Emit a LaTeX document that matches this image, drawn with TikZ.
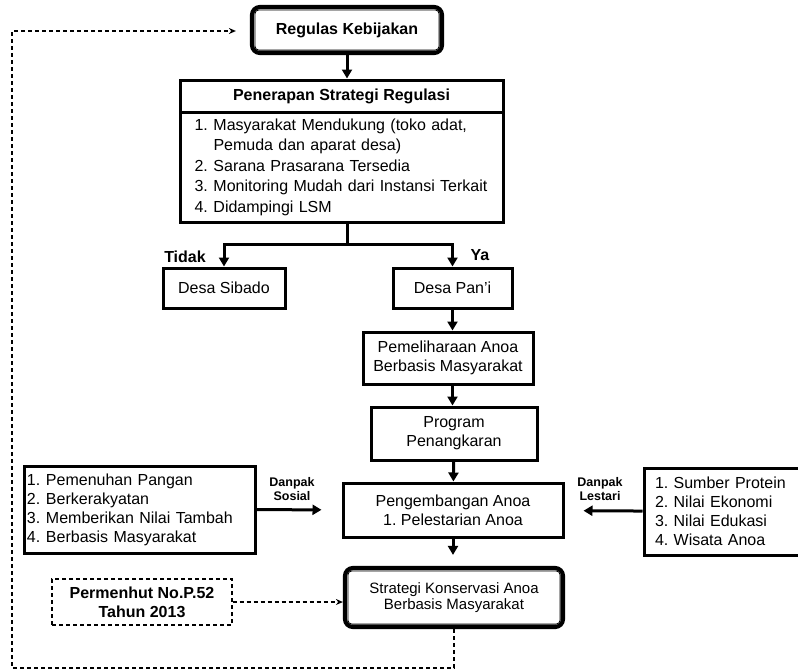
\documentclass[tikz,border=0pt]{standalone}
\usepackage{fontspec}
\setmainfont{Liberation Sans}
\usetikzlibrary{arrows.meta}

\newcommand{\itm}[2]{\makebox[19pt][l]{#1}#2}
\frenchspacing

\begin{document}
\begin{tikzpicture}[x=1pt,y=-1pt,
  box/.style={draw, line width=3pt, align=center, inner sep=2pt, font=\fontsize{16}{19}\selectfont},
  listbox/.style={box, align=left, font=\fontsize{16}{19}\selectfont},
  dblbox/.style={draw, line width=4.2pt, rounded corners=8pt, align=center},
  innerframe/.style={line width=0.8pt, rounded corners=4pt},
  arr/.style={line width=3pt, -{Triangle[length=9pt,width=10pt]}},
  dashln/.style={line width=1.1pt, dash pattern=on 4pt off 3pt},
  dasharr/.style={dashln, -{Stealth[length=7pt,width=6pt]}},
  lbl/.style={font=\bfseries\fontsize{16}{18}\selectfont},
  smalllbl/.style={align=center, font=\bfseries\fontsize{12.5}{14}\selectfont}
]
\useasboundingbox (0,0) rectangle (798,672);

\node[dblbox, minimum width=190pt, minimum height=46pt, font=\bfseries\fontsize{16}{19}\selectfont] (reg) at (347,30) {Regulas Kebijakan};
\draw[innerframe] ([xshift=5pt,yshift=-5pt]reg.north west) rectangle ([xshift=-5pt,yshift=5pt]reg.south east);

\node[box, minimum width=323pt, minimum height=32pt, font=\bfseries\fontsize{16}{19}\selectfont] (hdr) at (341.5,96) {Penerapan Strategi Regulasi};
\node[listbox, minimum width=323pt, minimum height=110pt, text width=294pt, inner xsep=14.5pt, font=\fontsize{16}{20.5}\selectfont] (pen) at (341.5,167)
  {\itm{1.}{Masyarakat Mendukung (toko adat,}\\\hspace*{19pt}Pemuda dan aparat desa)\\\itm{2.}{Sarana Prasarana Tersedia}\\\itm{3.}{Monitoring Mudah dari Instansi Terkait}\\\itm{4.}{Didampingi LSM}};

\node[box, minimum width=122pt, minimum height=40pt] (sib) at (224,288) {Desa Sibado};
\node[box, minimum width=119pt, minimum height=40pt] (pan) at (452.5,288) {Desa Pan'i};
\node[lbl] (tidak) at (185,257) {Tidak};
\node[lbl] (ya) at (480,255) {Ya};

\node[box, minimum width=170pt, minimum height=52pt] (pem) at (448,358) {Pemeliharaan Anoa\\Berbasis Masyarakat};
\node[box, minimum width=166pt, minimum height=53pt] (prog) at (454,433.5) {Program\\Penangkaran};
\node[box, minimum width=220pt, minimum height=54pt] (peng) at (453,510) {Pengembangan Anoa\\1. Pelestarian Anoa};

\node[listbox, minimum width=231pt, minimum height=87pt, text width=225pt, inner xsep=3pt] (sos) at (139.5,509.5)
  {\itm{1.}{Pemenuhan Pangan}\\\itm{2.}{Berkerakyatan}\\\itm{3.}{Memberikan Nilai Tambah}\\\itm{4.}{Berbasis Masyarakat}};
\node[listbox, minimum width=162pt, minimum height=87pt, text width=140pt, inner xsep=11pt] (les) at (725,511.5)
  {1. Sumber Protein\\2. Nilai Ekonomi\\3. Nilai Edukasi\\4. Wisata Anoa};
\node[smalllbl] (dsos) at (292,489) {Danpak\\Sosial};
\node[smalllbl] (dles) at (600,489) {Danpak\\Lestari};

\node[dblbox, minimum width=218pt, minimum height=59pt, font=\fontsize{15}{16.5}\selectfont] (str) at (454,597.5) {Strategi Konservasi Anoa\\Berbasis Masyarakat};
\draw[innerframe] ([xshift=5pt,yshift=-5pt]str.north west) rectangle ([xshift=-5pt,yshift=5pt]str.south east);
\node[draw, dashln, minimum width=180pt, minimum height=46pt, align=center, font=\bfseries\fontsize{16}{19}\selectfont] (perm) at (142,602) {Permenhut No.P.52\\Tahun 2013};

\coordinate (split) at (347,244);
\coordinate (fbl) at (12,668);
\coordinate (fbt) at (12,31);

\draw[arr] (reg.south) -- (reg.south |- hdr.north);
\draw[line width=3pt] (reg.south |- pen.south) -- (split);
\draw[arr] (split) -| (sib);
\draw[arr] (split) -| (pan);
\draw[arr] (pan.south) -- (pan.south |- pem.north);
\draw[arr] (pan.south |- pem.south) -- (pan.south |- prog.north);
\draw[arr] (prog) -- (peng);
\draw[arr, shorten >=11pt] (peng) -- (peng |- str.north);
\draw[arr, shorten >=20pt] (sos) -- (peng);
\draw[arr, shorten >=19pt] (les) -- (peng);
\draw[dasharr] (perm) -- (perm -| str.west);
\draw[dasharr, shorten >=14pt] (str.south) |- (fbl) -- (fbt) -- (reg.west |- fbt);
\end{tikzpicture}
\end{document}
